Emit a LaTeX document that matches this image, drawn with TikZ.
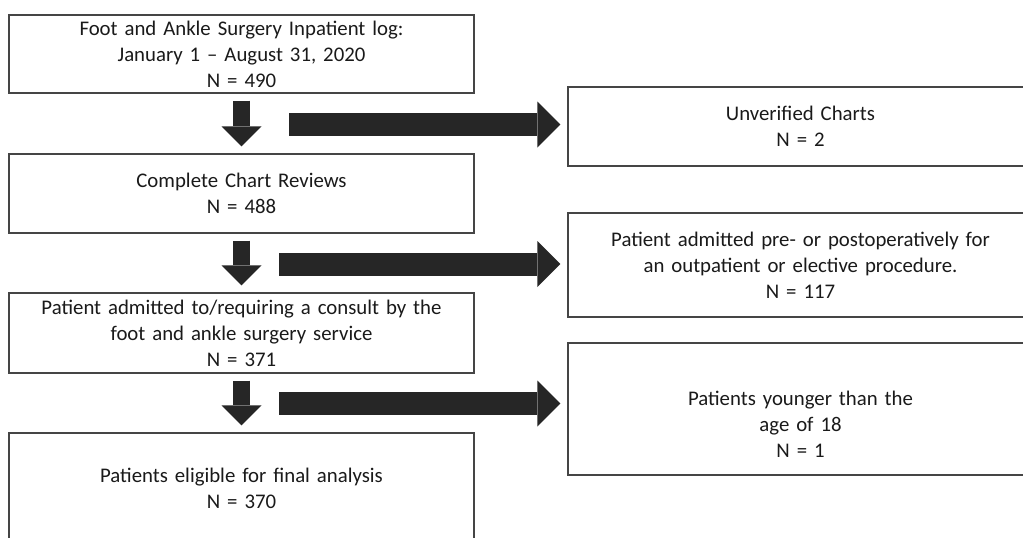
\documentclass[tikz,border=0pt]{standalone}
\usepackage{fontspec}
\setmainfont{Carlito}
\usepackage{tikz}
\usetikzlibrary{arrows.meta}
\definecolor{boxline}{HTML}{454545}
\definecolor{arrowfill}{HTML}{262626}
\definecolor{textgray}{HTML}{1A1A1A}

\begin{document}
\begin{tikzpicture}[
    box/.style={draw=boxline, line width=1.4pt, align=center, text width=455pt,
        inner xsep=5pt, inner ysep=1pt, text=textgray,
        font=\fontsize{20.8}{26}\selectfont},
    downarrow/.style={draw=arrowfill, line width=17pt,
        -{Triangle[length=20pt,width=40pt,line width=0pt]},
        shorten <=7pt, shorten >=7pt},
    sidearrow/.style={draw=arrowfill, line width=23pt,
        -{Triangle[length=23pt,width=46pt,line width=0pt]}, shorten >=7pt}
]
    \fill[white] (0pt, 0pt) rectangle (1023pt, -538pt);
    \clip (0pt, 0pt) rectangle (1023pt, -538pt);

    % Nodes
    \node[box, minimum height=78pt] (log) at (241.5pt, -54pt)
        {Foot and Ankle Surgery Inpatient log:\\January 1 – August 31, 2020\\N = 490};
    \node[box, minimum height=79pt] (review) at (241.5pt, -193.5pt)
        {Complete Chart Reviews\\N = 488};
    \node[box, minimum height=80pt] (consult) at (241.5pt, -333pt)
        {Patient admitted to/requiring a consult by the\\foot and ankle surgery service\\N = 371};
    \node[box, minimum height=110pt] (final) at (241.5pt, -488pt)
        {Patients eligible for final analysis\\N = 370};

    \node[box, minimum height=79pt] (unverified) at (800.5pt, -126.5pt)
        {Unverified Charts\\N = 2};
    \node[box, minimum height=104pt] (elective) at (800.5pt, -265pt)
        {Patient admitted pre- or postoperatively for\\an outpatient or elective procedure.\\N = 117};
    \node[box, minimum height=132pt] (younger) at (800.5pt, -409pt)
        {\strut\\Patients younger than the\\age of 18\\N = 1};

    \coordinate (s1) at (289pt, -124.5pt);
    \coordinate (s2) at (279pt, -264pt);
    \coordinate (s3) at (279pt, -403.5pt);

    % Arrows
    \draw[downarrow] (log) -- (review);
    \draw[downarrow] (review) -- (consult);
    \draw[downarrow] (consult) -- (final);

    \draw[sidearrow] (s1) -- (s1 -| unverified.west);
    \draw[sidearrow] (s2) -- (s2 -| elective.west);
    \draw[sidearrow] (s3) -- (s3 -| younger.west);
\end{tikzpicture}
\end{document}
